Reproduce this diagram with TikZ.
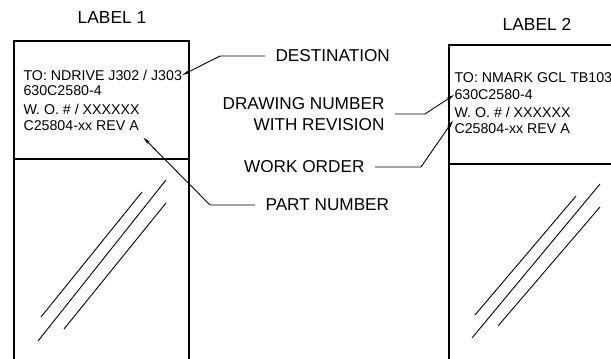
\documentclass[tikz,border=0pt]{standalone}
\usepackage{fontspec}
\setmainfont{Liberation Sans}
\usepackage{tikz}
\usetikzlibrary{arrows.meta,positioning}

\begin{document}
\begin{tikzpicture}[x=1pt,y=-1pt,line width=1.1pt]
    % `title' is used for the LABEL 1 / LABEL 2 headings.
    % `line' is used for the text printed on a label.
    % `callout' is used for the captions between the labels.
    \tikzstyle{title} = [inner sep=0pt,font=\fontsize{17.4}{20}\selectfont]
    \tikzstyle{line} = [inner sep=0pt,anchor=west,font=\fontsize{14.2}{16}\selectfont]
    \tikzstyle{callout} = [inner sep=0pt,font=\fontsize{17.2}{20.5}\selectfont,align=right]
    \tikzstyle{leader} = [line width=0.9pt,-{Stealth[length=8pt,width=3.5pt]}]
    \tikzstyle{glass} = [line width=0.9pt]
    %
    \useasboundingbox (0,0) rectangle (611,359);
    \clip (0,0) rectangle (611,359);
    % First label.
    \node[title] (t1) at (112,18) {LABEL 1};
    \draw (14,362) -- (14,41) -- (189,41) -- (189,362);
    \draw (14,159) -- (189,159);
    \node[line] (l1a) at (23,75) {TO: NDRIVE J302 / J303};
    \node[line] (l1b) at (23,91) {630C2580-4};
    \node[line] (l1c) at (23,109) {W. O. \# / XXXXXX};
    \node[line] (l1d) at (23,126) {C25804-xx REV A};
    \draw[glass] (41,317) -- (142,192)  (38,341) -- (166,180)  (64,329) -- (166,203);
    % Second label.
    \node[title] (t2) at (537,24) {LABEL 2};
    \draw (449,362) -- (449,45) -- (620,45);
    \draw (449,164) -- (620,164);
    \node[line] (l2a) at (454,78) {TO: NMARK GCL TB103};
    \node[line] (l2b) at (454,95) {630C2580-4};
    \node[line] (l2c) at (454,112) {W. O. \# / XXXXXX};
    \node[line] (l2d) at (454,129) {C25804-xx REV A};
    \draw[glass] (475,315) -- (576,196)  (472,338) -- (600,184)  (498,326) -- (600,207);
    % Captions.
    \node[callout,anchor=west] (dest) at (275,56) {DESTINATION};
    \node[callout,anchor=east] (dwg) at (385,114) {DRAWING NUMBER\\WITH REVISION};
    \node[callout,anchor=east] (wo) at (365,167) {WORK ORDER};
    \node[callout,anchor=west] (pn) at (265,205) {PART NUMBER};
    % Leaders.
    \draw[leader] (dest.west) ++(-10,0) -- (220,56) -- (l1a.east);
    \draw[leader] (dwg.east) ++(10,0) -- (425,114) -- (l2b.west);
    \draw[leader] (wo.east) ++(10,0) -- (421,167) -- ([xshift=-1pt,yshift=-3pt]l2c.south west);
    \draw[leader] (pn.west) ++(-10,0) -- (210,205) -- ([xshift=4pt,yshift=-6pt]l1d.south east);
\end{tikzpicture}
\end{document}
